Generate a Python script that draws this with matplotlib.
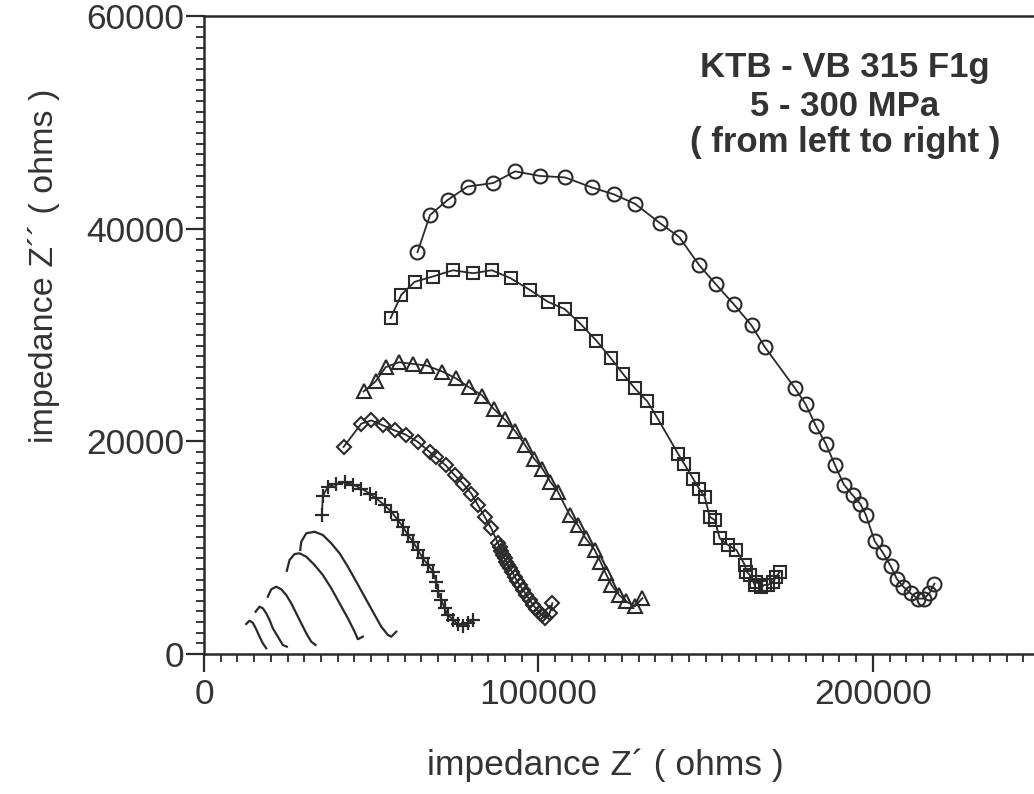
import matplotlib
matplotlib.use("Agg")
import matplotlib.pyplot as plt
from matplotlib.ticker import MultipleLocator, FixedLocator

plt.rcParams['font.family'] = ['Liberation Sans', 'DejaVu Sans']

# ---- data (Z' , Z'' in ohms), lowest pressure (left) to highest (right) ----
line1_x = [12630, 13610, 14600, 15620, 16610, 17590, 18610]
line1_y = [2820, 3130, 2940, 2320, 1630, 1010, 540]

line2_x = [15410, 16610, 17590, 18610, 19600, 20580, 22080, 23580, 24770]
line2_y = [3980, 4450, 4300, 3830, 3200, 2420, 1630, 850, 690]

line3_x = [19090, 20100, 21600, 23100, 24590, 26090, 27580, 29080, 30580, 32070, 33360]
line3_y = [5390, 6080, 6330, 6080, 5550, 4770, 3830, 2890, 1950, 1160, 850]

line4_x = [24770, 25580, 27080, 28570, 30580, 33060, 35540, 38060, 40540, 43020, 45030, 46010, 47510]
line4_y = [7830, 8840, 9400, 9470, 9150, 8370, 7430, 6180, 4770, 3360, 2100, 1390, 1630]

line5_x = [28780, 29080, 30580, 33060, 35540, 38060, 40540, 43020, 45540, 48020, 50500, 53010, 54990, 56010, 57500]
line5_y = [9780, 10560, 11350, 11500, 11190, 10410, 9470, 8210, 6800, 5390, 3980, 2570, 1790, 1630, 2100]

cross_x = [35250, 35550, 37040, 39550, 42040, 44520, 47030, 49510, 51520, 54000, 56010, 57980, 59480,
           60970, 62470, 63970, 65460, 66960, 68460, 69470, 69950, 70970, 71950, 72940, 74440, 75930,
           77430, 78930, 80420]
cross_y = [13060, 14880, 15720, 16030, 16130, 15940, 15560, 15090, 14630, 14000, 13380, 12590, 11970,
           11190, 10570, 9780, 9000, 8380, 7750, 6810, 5880, 5090, 4310, 3690, 3220, 2810,
           2590, 2910, 3220]

diamond_x = [41740, 47020, 50020, 53510, 57000, 60280, 63970, 67470, 69260, 72250, 74950, 77430, 79940,
             81920, 83920, 85920, 87900, 88410, 88920, 89400, 89900, 90410, 90890, 91400, 92210,
             92900, 93590, 94390, 95380, 96390, 97380, 98380, 99390, 100380, 101180, 101870,
             103370, 104170]
diamond_y = [19470, 21660, 21970, 21500, 21030, 20630, 19940, 19000, 18530, 17750, 16810, 16030, 15090,
             14000, 12910, 11810, 10410, 10100, 9690, 9310, 9000, 8690, 8370, 8060, 7690,
             7280, 6870, 6500, 6030, 5560, 5090, 4620, 4250, 3840, 3630, 3380,
             3840, 4780]

tri_x = [47720, 51310, 54300, 58290, 62480, 66670, 71260, 75250, 79230, 83220, 86610, 89900, 93100,
         96090, 98680, 101180, 103570, 105860, 109350, 111830, 114140, 116830, 118530, 120120, 121820,
         124100, 126310, 128800, 131100]
tri_y = [24690, 25630, 26970, 27440, 27280, 27120, 26560, 25940, 25090, 24310, 23060, 22060, 20940,
         19620, 18380, 17440, 16190, 15250, 13060, 12120, 10880, 9780, 8690, 7590, 6500,
         5560, 4940, 4470, 5250]

square_x = [55800, 59000, 62980, 68460, 74440, 80420, 86100, 91700, 97380, 102860, 107860, 112640,
            117330, 121620, 125300, 128800, 132590, 135580, 141760, 143550, 146240, 148030, 149740,
            151230, 152730, 154230, 156710, 159220, 161710, 162220, 163200, 164700, 165210, 166700,
            167690, 168680, 170180, 171190, 172180]
square_y = [31590, 33780, 35000, 35500, 36090, 35810, 36090, 35340, 34250, 33120, 32440, 31030,
            29470, 27840, 26340, 25000, 23750, 22190, 18840, 17910, 16500, 15560, 14780,
            12910, 12590, 10880, 10250, 9780, 8380, 7750, 7440, 6500, 6810, 6340,
            6500, 6500, 6810, 7280, 7750]

circle_x = [63840, 67590, 72910, 78800, 86490, 93010, 100370, 107970, 115960, 122600, 129000, 136270,
            142140, 148030, 153030, 158380, 163740, 167690, 176780, 179950, 182950, 185940, 188630,
            191330, 193990, 196320, 197910, 200600, 202960, 205390, 207180, 209160, 211280, 213430,
            215350, 216930, 218430]
circle_y = [37790, 41280, 42710, 43960, 44290, 45390, 44960, 44820, 43880, 43220, 42320, 40540,
            39200, 36590, 34780, 32910, 30900, 28880, 24980, 23470, 21470, 19780, 17810,
            15940, 14930, 14090, 13090, 10590, 9560, 8250, 7060, 6320, 5720, 5210,
            5210, 5720, 6620]

title_lines = ["KTB - VB 315 F1g", "5 - 300 MPa", "( from left to right )"]
x_label = "impedance Z\u00b4 ( ohms )"
y_label = "impedance Z\u00b4\u00b4 ( ohms )"
x_ticks = [0, 100000, 200000]
y_ticks = [0, 20000, 40000, 60000]

# ---- figure ----
W, H = 1034, 794
fig = plt.figure(figsize=(W / 100, H / 100), dpi=100)
ax = fig.add_axes([204 / W, (H - 654) / H, 836 / W, 638 / H])

ink = '#2a2a2a'
lw = 1.3
for xs, ys in [(line1_x, line1_y), (line2_x, line2_y), (line3_x, line3_y),
               (line4_x, line4_y), (line5_x, line5_y)]:
    ax.plot(xs, ys, color=ink, lw=1.6)

ax.plot(cross_x, cross_y, color=ink, lw=lw, marker='+', ms=10, mew=1.6)
ax.plot(diamond_x, diamond_y, color=ink, lw=lw, marker='D', ms=7, mfc='none', mec=ink, mew=1.5)
ax.plot(tri_x, tri_y, color=ink, lw=lw, marker='^', ms=10, mfc='none', mec=ink, mew=1.5)
ax.plot(square_x, square_y, color=ink, lw=lw, marker='s', ms=8.5, mfc='none', mec=ink, mew=1.5)
ax.plot(circle_x, circle_y, color=ink, lw=lw, marker='o', ms=10, mfc='none', mec=ink, mew=1.5)

ax.set_xlim(0, 250000)
ax.set_ylim(0, 60000)
ax.xaxis.set_major_locator(FixedLocator(x_ticks))
ax.yaxis.set_major_locator(FixedLocator(y_ticks))
ax.xaxis.set_minor_locator(MultipleLocator(5000))
ax.yaxis.set_minor_locator(MultipleLocator(1000))
ax.set_xticklabels([str(v) for v in x_ticks])
ax.set_yticklabels([str(v) for v in y_ticks])

for s in ['left', 'bottom', 'top', 'right']:
    ax.spines[s].set_linewidth(1.8)
    ax.spines[s].set_color(ink)

ax.tick_params(which='major', direction='out', length=13, width=1.6, color=ink,
               labelsize=25.5, labelcolor='#333333')
ax.tick_params(axis='y', which='major', pad=1)
ax.tick_params(axis='x', which='major', pad=4)
ax.tick_params(which='minor', direction='out', length=5.5, width=1.3, color=ink)

fig.text(605 / W, (H - 775) / H, x_label, fontsize=25.5, color='#333333',
         ha='center', va='baseline', rotation_mode='anchor')
fig.text(53 / W, (H - 266) / H, y_label, fontsize=24.5, color='#333333',
         ha='center', va='baseline', rotation=90, rotation_mode='anchor')

baselines = [76.7, 115.5, 152]
for txt, b in zip(title_lines, baselines):
    fig.text(845 / W, (H - b) / H, txt, fontsize=25, fontweight='bold', color='#333333',
             ha='center', va='baseline')

fig.savefig('out.png', dpi=100)
